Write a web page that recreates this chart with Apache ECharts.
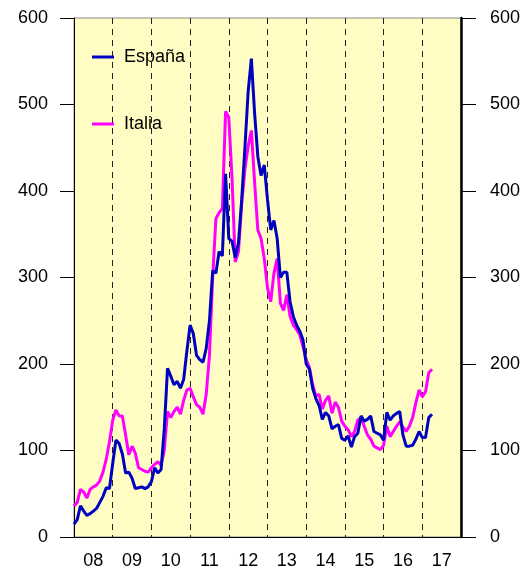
<!DOCTYPE html>
<html>
<head>
<meta charset="utf-8">
<script src="https://cdn.jsdelivr.net/npm/echarts@6/dist/echarts.min.js"></script>
<style>
  html, body { margin: 0; padding: 0; background: #fff; }
  #chart { width: 524px; height: 570px; }
</style>
</head>
<body>
<div id="chart"></div>
<script>
// monthly values, Jan 2008 onwards
const startYear = 2008
const yearLabels = ['08', '09', '10', '11', '12', '13', '14', '15', '16', '17']
const espana = [
  15, 20, 36, 30, 25, 27, 30, 33, 40, 47, 57, 56,
  85, 112, 108, 96, 74, 75, 68, 56, 57, 58, 56, 58,
  64, 80, 74, 78, 125, 195, 186, 176, 180, 172, 182, 215,
  245, 235, 210, 205, 202, 218, 250, 308, 305, 330, 325, 420,
  345, 342, 323, 340, 390, 450, 515, 553, 490, 440, 418, 430,
  390, 355, 366, 345, 300, 306, 306, 272, 255, 245, 238, 228,
  200, 194, 172, 160, 152, 136, 144, 140, 125, 128, 130, 114,
  112, 117, 104, 116, 120, 140, 134, 136, 140, 122, 120, 118,
  112, 144, 135, 140, 143, 145, 118, 105, 105, 106, 113, 122,
  115, 115, 138, 142
]
const italia = [
  36, 40, 55, 52, 45, 55, 58, 60, 65, 75, 90, 110,
  135, 147, 140, 140, 118, 95, 105, 97, 80, 78, 76, 75,
  80, 84, 87, 83, 100, 145, 138, 145, 150, 142, 158, 170,
  172, 162, 153, 150, 142, 165, 210, 300, 368, 375, 380, 492,
  485, 415, 318, 330, 385, 425, 452, 470, 410, 355, 345, 322,
  288, 272, 305, 322, 270, 262, 280, 255, 245, 240, 234, 220,
  205, 196, 176, 163, 165, 148, 158, 163, 143, 156, 150, 134,
  128, 124, 116, 122, 135, 138, 128, 118, 113, 105, 103, 101,
  106, 128, 116, 122, 128, 133, 127, 122, 128, 138, 155, 170,
  162, 168, 190, 194
]

function toPairs (values) {
  return values.map((v, i) => [startYear + i / 12, v])
}

const font = '"Liberation Sans", Arial, sans-serif'
const blue = '#0000C0'
const pink = '#FF00FF'

const chart = echarts.init(document.getElementById('chart'))
const legendText = { fontSize: 18, color: '#000', fontFamily: font, padding: [0, 0, 0, 5] }
const option = {
  animation: false,
  textStyle: { fontFamily: font },
  grid: {
    left: 74, right: 63, top: 18, bottom: 32,
    show: true,
    backgroundColor: '#FFFDC4',
    borderColor: '#888',
    borderWidth: 1
  },
  legend: [
    {
      data: ['España'], left: 87, top: 43,
      icon: 'rect', itemWidth: 22, itemHeight: 3,
      textStyle: legendText
    },
    {
      data: ['Italia'], left: 87, top: 110,
      icon: 'rect', itemWidth: 22, itemHeight: 3,
      textStyle: legendText
    }
  ],
  xAxis: [
    {
      type: 'value',
      min: 2008, max: 2018, interval: 1,
      position: 'bottom',
      axisLine: { show: true, lineStyle: { color: '#000', width: 1 } },
      axisTick: { show: false },
      axisLabel: { show: false },
      splitLine: { show: true, lineStyle: { color: '#222', width: 1, type: [6, 5] } }
    },
    {
      type: 'category',
      data: yearLabels,
      position: 'bottom',
      offset: 0,
      boundaryGap: true,
      axisLine: { show: false },
      axisTick: { show: false },
      splitLine: { show: false },
      axisLabel: { fontSize: 18, color: '#000', margin: 15, fontFamily: font }
    }
  ],
  yAxis: [
    {
      type: 'value', position: 'left',
      min: 0, max: 600, interval: 100,
      axisLine: { show: true, lineStyle: { color: '#000', width: 1 } },
      axisTick: { show: true, length: 14, lineStyle: { color: '#000' } },
      axisLabel: { fontSize: 18, color: '#000', margin: 26, fontFamily: font },
      splitLine: { show: false }
    },
    {
      type: 'value', position: 'right',
      min: 0, max: 600, interval: 100,
      axisLine: { show: true, lineStyle: { color: '#000', width: 2.5 } },
      axisTick: { show: true, length: 15, lineStyle: { color: '#000' } },
      axisLabel: { fontSize: 18, color: '#000', margin: 29, fontFamily: font },
      splitLine: { show: false }
    }
  ],
  series: [
    {
      name: 'Italia', type: 'line',
      xAxisIndex: 0, yAxisIndex: 0,
      data: toPairs(italia),
      symbol: 'none',
      lineStyle: { color: pink, width: 3 },
      itemStyle: { color: pink }
    },
    {
      name: 'España', type: 'line',
      xAxisIndex: 0, yAxisIndex: 0,
      data: toPairs(espana),
      symbol: 'none',
      lineStyle: { color: blue, width: 3 },
      itemStyle: { color: blue }
    }
  ]
}
chart.setOption(option)
</script>
</body>
</html>
